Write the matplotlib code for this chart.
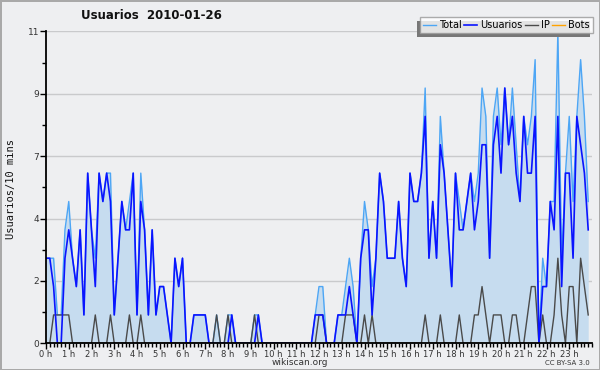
import matplotlib
matplotlib.use("Agg")
import matplotlib.pyplot as plt
from matplotlib.patches import Rectangle
import numpy as np

COLOR_BG = "#EEEFF1"

# one value per 10-minute slot, 144 slots for 2010-01-26
usuarios = [
    3, 3, 2, 0, 0, 3, 4, 3, 2, 4, 1, 6,
    4, 2, 6, 5, 6, 5, 1, 3, 5, 4, 4, 6,
    1, 5, 4, 1, 4, 1, 2, 2, 1, 0, 3, 2,
    3, 0, 0, 1, 1, 1, 1, 0, 0, 0, 0, 0,
    0, 1, 0, 0, 0, 0, 0, 0, 1, 0, 0, 0,
    0, 0, 0, 0, 0, 0, 0, 0, 0, 0, 0, 1,
    1, 1, 0, 0, 0, 1, 1, 1, 2, 1, 0, 3,
    4, 4, 1, 3, 6, 5, 3, 3, 3, 5, 3, 2,
    6, 5, 5, 6, 8, 3, 5, 3, 7, 6, 4, 2,
    6, 4, 4, 5, 6, 4, 5, 7, 7, 3, 7, 8,
    6, 9, 7, 8, 6, 5, 8, 6, 6, 8, 0, 2,
    2, 5, 4, 8, 2, 6, 6, 3, 8, 7, 6, 4,
]
ip = [
    0, 0, 1, 1, 1, 1, 1, 0, 0, 0, 0, 0,
    0, 1, 0, 0, 0, 1, 0, 0, 0, 0, 1, 0,
    0, 1, 0, 0, 0, 0, 0, 0, 0, 0, 0, 0,
    0, 0, 0, 0, 0, 0, 0, 0, 0, 1, 0, 0,
    1, 0, 0, 0, 0, 0, 0, 1, 0, 0, 0, 0,
    0, 0, 0, 0, 0, 0, 0, 0, 0, 0, 0, 0,
    1, 1, 0, 0, 0, 0, 0, 1, 1, 1, 0, 0,
    1, 0, 1, 0, 0, 0, 0, 0, 0, 0, 0, 0,
    0, 0, 0, 0, 1, 0, 0, 0, 1, 0, 0, 0,
    0, 1, 0, 0, 0, 1, 1, 2, 1, 0, 1, 1,
    1, 0, 0, 1, 1, 0, 0, 1, 2, 2, 0, 1,
    0, 0, 1, 3, 1, 0, 2, 2, 0, 3, 2, 1,
]
total = [
    3, 3, 3, 1, 1, 4, 5, 3, 2, 4, 1, 6,
    4, 3, 6, 5, 6, 6, 1, 3, 5, 4, 5, 6,
    1, 6, 4, 1, 4, 1, 2, 2, 1, 0, 3, 2,
    3, 0, 0, 1, 1, 1, 1, 0, 0, 1, 0, 0,
    1, 1, 0, 0, 0, 0, 0, 1, 1, 0, 0, 0,
    0, 0, 0, 0, 0, 0, 0, 0, 0, 0, 0, 1,
    2, 2, 0, 0, 0, 1, 1, 2, 3, 2, 0, 3,
    5, 4, 2, 3, 6, 5, 3, 3, 3, 5, 3, 2,
    6, 5, 5, 6, 9, 3, 5, 3, 8, 6, 4, 2,
    6, 5, 4, 5, 6, 5, 6, 9, 8, 3, 8, 9,
    7, 9, 7, 9, 7, 5, 8, 7, 8, 10, 0, 3,
    2, 5, 5, 11, 3, 6, 8, 5, 8, 10, 8, 5,
]
bots = [0] * 144

hour_labels = [f"{h} h" for h in range(24)]
y_tick_pos = [0, 2.2, 4.4, 6.6, 8.8, 11]
y_tick_labels = ["0", "2", "4", "7", "9", "11"]

x = np.arange(len(total))

fig = plt.figure(figsize=(6, 3.7), dpi=100)
fig.patch.set_facecolor(COLOR_BG)
fig.patch.set_edgecolor("#A9A9A9")
fig.patch.set_linewidth(2)
ax = fig.add_axes([46 / 600, 1 - 343.3 / 370, 546 / 600, 312 / 370])
ax.set_facecolor(COLOR_BG)

for y in y_tick_pos[1:]:
    ax.axhline(y, color="#C9CACC", lw=1, zorder=0)

ax.fill_between(x, total, 0, color="#C6DCEF", lw=0, zorder=1)
ax.plot(x, bots, color="#FFA200", lw=1, zorder=2, label="Bots")
ax.plot(x, total, color="#4DA6F5", lw=1, zorder=3, label="Total")
ax.plot(x, ip, color="#4A4A4A", lw=1, zorder=4, label="IP")
ax.plot(x, usuarios, color="#0A14FF", lw=1.2, zorder=5, label="Usuarios")

ax.set_xlim(0, 144)
ax.set_ylim(0, 11)
for s in ["top", "right"]:
    ax.spines[s].set_visible(False)
for s in ["left", "bottom"]:
    ax.spines[s].set_linewidth(1.3)
    ax.spines[s].set_zorder(6)

ax.set_yticks(y_tick_pos)
ax.set_yticklabels(y_tick_labels)
ax.set_yticks([1.1, 3.3, 5.5, 7.7, 9.9], minor=True)
ax.set_xticks(np.arange(0, 144, 6))
ax.set_xticklabels(hour_labels)
ax.set_xticks(np.arange(0, 145, 1), minor=True)
ax.tick_params(axis="y", which="major", length=4, width=1, labelsize=6.5,
               labelcolor="#333333", pad=1)
ax.tick_params(axis="x", which="major", length=4, width=1, labelsize=6,
               labelcolor="#333333", pad=0.5)
ax.tick_params(axis="both", which="minor", length=3, width=1)

fig.text(0.252, 0.957, "Usuarios  2010-01-26", ha="center", va="center",
         fontsize=8.5, fontweight="bold", color="#111111")
fig.text(0.019, 0.49, "Usuarios/10 mins", rotation=90, ha="center", va="center",
         fontsize=7.5, family="DejaVu Sans Mono", color="#111111")
fig.text(0.5, 0.02, "wikiscan.org", ha="center", va="center", fontsize=6.5,
         color="#333333")
fig.text(0.983, 0.02, "CC BY-SA 3.0", ha="right", va="center", fontsize=5,
         color="#333333")

handles, labels = ax.get_legend_handles_labels()
order = ["Total", "Usuarios", "IP", "Bots"]
hmap = dict(zip(labels, handles))
leg = fig.legend([hmap[k] for k in order], order, ncol=4,
                 loc="upper right", bbox_to_anchor=(593 / 600, 1 - 17 / 370),
                 fontsize=7, frameon=True, fancybox=False, borderpad=0.3,
                 handlelength=1.3, handletextpad=0.35, columnspacing=0.25,
                 borderaxespad=0)
leg.get_frame().set_edgecolor("#999999")
leg.get_frame().set_facecolor("white")
leg.get_frame().set_linewidth(1)
leg.set_zorder(10)

fig.canvas.draw()
bb = leg.get_window_extent().transformed(fig.transFigure.inverted())
shadow = Rectangle((bb.x0 - 3 / 600, bb.y0 - 4 / 370), bb.width, bb.height,
                   transform=fig.transFigure, facecolor="#777777", edgecolor="none",
                   zorder=9)
fig.patches.append(shadow)

fig.savefig("out.png", dpi=100, facecolor=COLOR_BG, edgecolor="#A9A9A9")
